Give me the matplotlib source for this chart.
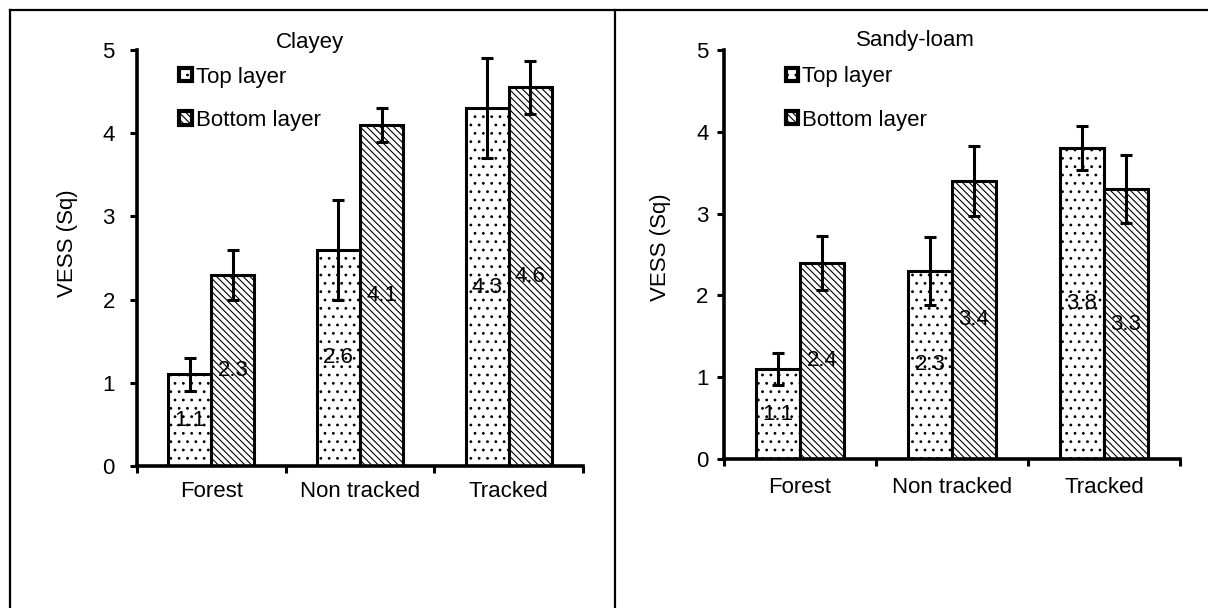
import numpy as np
import matplotlib
matplotlib.use("Agg")
import matplotlib.pyplot as plt
from matplotlib.lines import Line2D
from matplotlib.patches import Patch

plt.rcParams["font.family"] = ["Liberation Sans", "DejaVu Sans"]
plt.rcParams["hatch.linewidth"] = 0.8

# === data ===
categories = ["Forest", "Non tracked", "Tracked"]
series_names = ["Top layer", "Bottom layer"]

clayey_top = [1.1, 2.6, 4.3]
clayey_bottom = [2.3, 4.1, 4.55]
clayey_top_err = [0.2, 0.6, 0.6]
clayey_bottom_err = [0.3, 0.2, 0.32]
clayey_top_lbl = ["1.1", "2.6", "4.3"]
clayey_bottom_lbl = ["2.3", "4.1", "4.6"]

sandy_top = [1.1, 2.3, 3.8]
sandy_bottom = [2.4, 3.4, 3.3]
sandy_top_err = [0.2, 0.42, 0.27]
sandy_bottom_err = [0.33, 0.43, 0.42]
sandy_top_lbl = ["1.1", "2.3", "3.8"]
sandy_bottom_lbl = ["2.4", "3.4", "3.3"]

yticks = [0, 1, 2, 3, 4, 5]

FS = 16
W, H = 1208, 608
fig = plt.figure(figsize=(W / 100, H / 100), dpi=100)


def px_axes(x0, x1, ytop, ybot):
    return fig.add_axes([x0 / W, (H - ybot) / H, (x1 - x0) / W, (ybot - ytop) / H])


def draw_panel(ax, title, title_xy, top, bottom, top_err, bottom_err, top_lbl, bottom_lbl,
               ylab_x, ylab_y, ypad, xpad, leg_xy):
    x = np.arange(len(categories))
    bw = 0.29
    hatches = ["..", "\\\\\\\\\\"]
    for vals, errs, lbls, off, h, name in [
        (top, top_err, top_lbl, -bw / 2, hatches[0], series_names[0]),
        (bottom, bottom_err, bottom_lbl, bw / 2, hatches[1], series_names[1]),
    ]:
        ax.bar(x + off, vals, bw, color="white", edgecolor="black", linewidth=2.2,
               hatch=h, zorder=2, label=name)
        ax.errorbar(x + off, vals, yerr=errs, fmt="none", ecolor="black",
                    elinewidth=2.2, capsize=4.5, capthick=2.2, zorder=3)
        for xi, v, t in zip(x + off, vals, lbls):
            ax.text(xi, v / 2, t, ha="center", va="center", fontsize=FS, zorder=4)

    ax.set_xlim(-0.5, len(categories) - 0.5)
    ax.set_ylim(0, 5)
    ax.set_yticks(yticks)
    ax.set_xticks(x)
    ax.set_xticklabels(categories)
    ax.set_xticks(np.arange(len(categories) + 1) - 0.5, minor=True)
    ax.tick_params(axis="x", which="major", length=0, pad=xpad, labelsize=FS)
    ax.tick_params(axis="x", which="minor", length=5, width=2.2, direction="out")
    ax.tick_params(axis="y", length=5, width=2.2, direction="out", pad=ypad, labelsize=FS)
    for s in ["top", "right"]:
        ax.spines[s].set_visible(False)
    for s in ["left", "bottom"]:
        ax.spines[s].set_linewidth(2.6)

    ax.text(*title_xy, title, transform=ax.transAxes, ha="center", va="center", fontsize=FS)
    ax.text(ylab_x, ylab_y, "VESS (Sq)", transform=ax.transAxes, rotation=90,
            ha="center", va="center", fontsize=FS)

    handles = [Patch(facecolor="white", edgecolor="black", linewidth=3, hatch=hatches[0]),
               Patch(facecolor="white", edgecolor="black", linewidth=3, hatch=hatches[1])]
    ax.legend(handles, series_names, loc="upper left", bbox_to_anchor=leg_xy, frameon=False,
              fontsize=FS, handlelength=0.55, handleheight=0.55, handletextpad=0.2,
              labelspacing=1.0, borderpad=0, borderaxespad=0)


ax1 = px_axes(137, 583, 50, 466)
draw_panel(ax1, "Clayey", (0.388, 1.019), clayey_top, clayey_bottom, clayey_top_err,
           clayey_bottom_err, clayey_top_lbl, clayey_bottom_lbl,
           -0.155, 0.536, 11, 11, (0.095, 0.96))

ax2 = px_axes(724, 1180, 50, 459)
draw_panel(ax2, "Sandy-loam", (0.419, 1.024), sandy_top, sandy_bottom, sandy_top_err,
           sandy_bottom_err, sandy_top_lbl, sandy_bottom_lbl,
           -0.14, 0.518, 6, 13, (0.135, 0.96))

# frame lines around the two panels
for xs, ys in [([10, 10], [10, H]), ([10, W], [10, 10]), ([615, 615], [10, H])]:
    fig.add_artist(Line2D([v / W for v in xs], [(H - v) / H for v in ys],
                          color="black", linewidth=1.6, transform=fig.transFigure))

fig.savefig("out.png", dpi=100)
